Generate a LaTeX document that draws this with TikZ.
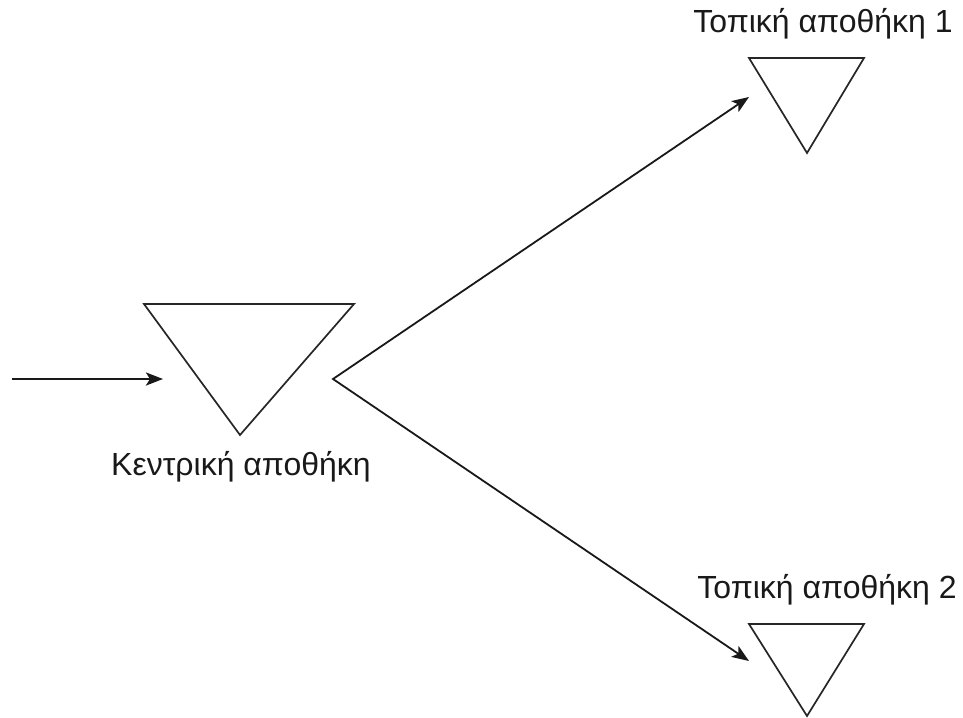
\documentclass[tikz,border=0pt]{standalone}
\usepackage{fontspec}
\setmainfont{Liberation Sans}
\usetikzlibrary{arrows.meta}
\begin{document}
\begin{tikzpicture}[x=1pt,y=-1pt,
  store/.style={draw=black!85,line width=1.7pt,line join=miter},
  flow/.style={draw=black!90,line width=1.8pt,-{Stealth[length=17pt,width=13pt,inset=4pt]}},
  lbl/.style={font=\fontsize{32}{38}\selectfont,text=black!90,inner sep=0pt}]
\useasboundingbox (0,0) rectangle (963,717);
% triangles
\coordinate (c1) at (144,304); \coordinate (c2) at (354,304); \coordinate (c3) at (240,435);
\draw[store] (c1) -- (c2) -- (c3) -- cycle;
\coordinate (a1) at (749,58); \coordinate (a2) at (864,58); \coordinate (a3) at (807,153);
\draw[store] (a1) -- (a2) -- (a3) -- cycle;
\coordinate (b1) at (749,624); \coordinate (b2) at (864,624); \coordinate (b3) at (807,716);
\draw[store] (b1) -- (b2) -- (b3) -- cycle;
% labels
\node[lbl] (lc) at (241,467) {Κεντρική αποθήκη};
\node[lbl] (l1) at (823,24) {Τοπική αποθήκη 1};
\node[lbl] (l2) at (827,590) {Τοπική αποθήκη 2};
% connectors
\coordinate (in0) at (12,379);
\coordinate (in1) at (163,379);
\draw[flow,line width=2.6pt] (in0) -- (in1);
\coordinate (v) at (333,379);
\coordinate (t1) at (749,97);
\coordinate (t2) at (749,661);
\draw[flow,{Stealth[length=17pt,width=13pt,inset=4pt]}-{Stealth[length=17pt,width=13pt,inset=4pt]},line join=miter] (t1) -- (v) -- (t2);
\end{tikzpicture}
\end{document}
